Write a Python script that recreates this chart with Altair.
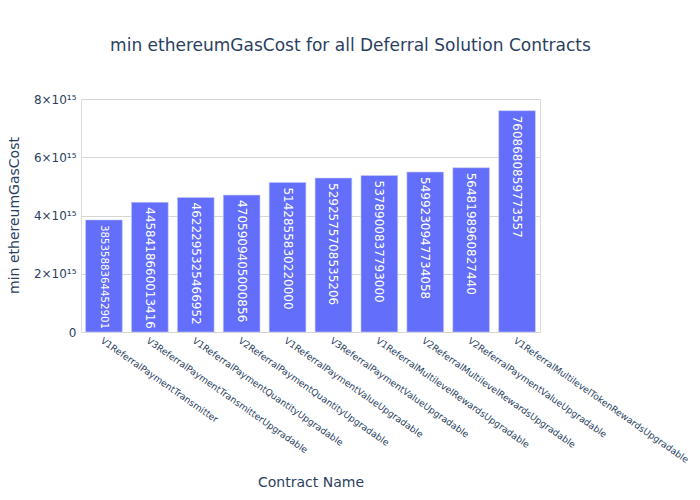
import altair as alt
import pandas as pd

contracts = [
    "V1ReferralPaymentTransmitter",
    "V3ReferralPaymentTransmitterUpgradable",
    "V1ReferralPaymentQuantityUpgradable",
    "V2ReferralPaymentQuantityUpgradable",
    "V1ReferralPaymentValueUpgradable",
    "V3ReferralPaymentValueUpgradable",
    "V1ReferralMultilevelRewardsUpgradable",
    "V2ReferralMultilevelRewardsUpgradable",
    "V2ReferralPaymentValueUpgradable",
    "V1ReferralMultilevelTokenRewardsUpgradable",
]
gas_cost = [
    3853588364452901,
    4458418660013416,
    4622295325466952,
    4705909405000856,
    5142855830220000,
    5292575708535206,
    5378900837793000,
    5499230947734058,
    5648198960827440,
    7608680859773557,
]

df = pd.DataFrame({
    "contract": contracts,
    "cost": [float(v) for v in gas_cost],
    "label": [str(v) for v in gas_cost],
})

FONT = "DejaVu Sans"
TXT = "#2a3f5f"
YMAX = 8.01e15
PLOT_H = 233

x_enc = alt.X(
    "contract:N",
    sort=contracts,
    scale=alt.Scale(paddingInner=0.2, paddingOuter=0.1),
    axis=alt.Axis(
        title="Contract Name",
        labelAngle=35,
        labelAlign="left",
        labelBaseline="top",
        labelFontSize=9.2,
        labelColor=TXT,
        labelFont=FONT,
        labelPadding=4,
        ticks=False,
        domain=False,
        grid=False,
        titleFont=FONT,
        titleFontSize=14,
        titleFontWeight="normal",
        titleColor=TXT,
        titleY=150,
        titleBaseline="middle",
        labelLimit=400,
    ),
)

y_enc = alt.Y(
    "cost:Q",
    scale=alt.Scale(domain=[0, YMAX], nice=False),
    axis=alt.Axis(
        title="min ethereumGasCost",
        values=[0, 2e15, 4e15, 6e15, 8e15],
        labelExpr="datum.value == 0 ? '0' : format(datum.value / 1e15, 'd') + '×10¹⁵'",
        labelFontSize=12,
        labelColor=TXT,
        labelFont=FONT,
        labelPadding=5,
        ticks=False,
        domain=False,
        gridColor="#d6d6d6",
        gridWidth=1,
        titleFont=FONT,
        titleFontSize=14,
        titleFontWeight="normal",
        titleColor=TXT,
        titleX=-67,
        titleY=116,
        titleBaseline="middle",
        titleAlign="center",
    ),
)

bars = alt.Chart(df).mark_bar(
    color="#636efa", stroke="#c8ccf5", strokeWidth=0.6
).encode(x=x_enc, y=y_enc)

labels = alt.Chart(df).transform_calculate(
    fs=f"min(12, (datum.cost / {YMAX} * {PLOT_H} - 8) / (16 * 0.636))"
).mark_text(
    angle=90, align="left", baseline="middle", dx=5, color="white",
    font=FONT,
).encode(
    x=alt.X("contract:N", sort=contracts),
    y=alt.Y("cost:Q"),
    text="label:N",
    size=alt.Size("fs:Q", scale=None, legend=None),
)

chart = alt.layer(bars, labels).properties(
    width=459,
    height=PLOT_H,
    autosize=alt.AutoSizeParams(type="none"),
    padding={"left": 81, "top": 99, "right": 160, "bottom": 168},
    title=alt.Title(
        "min ethereumGasCost for all Deferral Solution Contracts",
        font=FONT, fontSize=17, fontWeight="normal", color=TXT,
        anchor="middle", dx=40, offset=38,
    ),
).configure_view(
    fill="#f0f0f0", stroke=None
).configure(background="white")

chart.save("out.html", embed_options={"renderer": "svg", "actions": False})
